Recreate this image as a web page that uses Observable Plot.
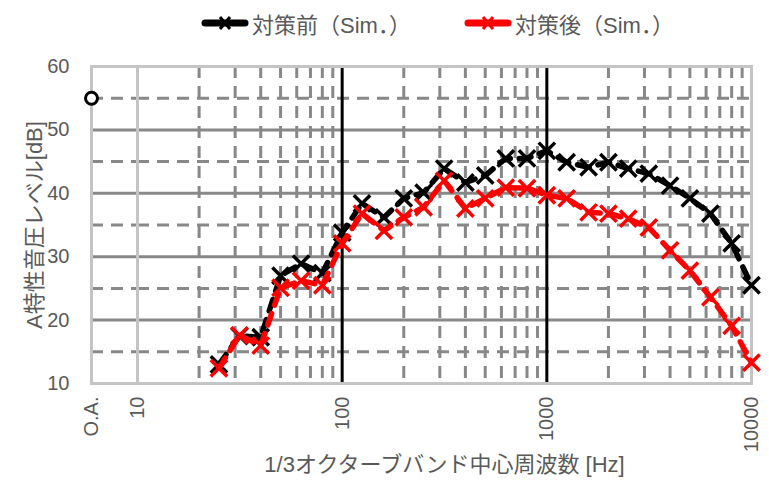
<!DOCTYPE html>
<html><head><meta charset="utf-8">
<script src="https://cdn.jsdelivr.net/npm/d3@7"></script>
<script src="https://cdn.jsdelivr.net/npm/@observablehq/plot@0.6"></script>
<style>
body{margin:0;background:#fff;}
#wrap{position:relative;width:769px;height:495px;font-family:'Liberation Sans','Noto Sans CJK JP',sans-serif;color:#595959;}
#legend{position:absolute;left:0;top:0;width:769px;height:42px;}
.item{position:absolute;top:7px;display:flex;align-items:center;font-size:22px;white-space:nowrap;}
.item svg{margin-right:3px;}
#plots{position:absolute;left:0;top:42px;width:769px;height:453px;}
#plots svg{position:absolute;left:0;top:0;}
</style></head><body>
<div id="wrap"><div id="legend"></div><div id="plots"></div></div>
<script>
// ---- data ----
const freqs = [25,31.5,40,50,63,80,100,125,160,200,250,315,400,500,630,800,1000,1250,1600,2000,2500,3150,4000,5000,6300,8000,10000];
const before = [13.0,17.5,17.3,27.0,28.9,27.4,33.8,38.4,36.2,39.2,40.1,43.9,41.7,42.8,45.5,45.5,46.7,44.9,44.1,44.9,43.9,43.1,41.2,39.2,36.8,32.1,25.5];
const after  = [12.4,17.6,16.0,25.1,26.2,25.5,32.1,36.8,34.1,36.2,37.8,42.0,37.6,39.2,40.9,40.8,39.7,39.2,37.0,36.8,36.0,34.6,31.0,27.8,23.6,19.1,13.3];
const oaLabels = ["O.A."];
const oaBefore = [55.0];
const seriesNames = ["対策前（Sim．）","対策後（Sim．）"];
const seriesColors = ["#000000","#ff0000"];
const xTicks = [10,100,1000,10000];
const yTicks = [10,20,30,40,50,60];
const minorFreqs = [20,30,40,50,60,70,80,90,200,300,400,500,600,700,800,900,2000,3000,4000,5000,6000,7000,8000,9000];
const decadeLines = [100,1000];
const majorGridDb = [20,30,40,50];
const minorGridDb = [15,25,35,45,55];
const xLabel = "1/3オクターブバンド中心周波数 [Hz]";
const yLabel = "A特性音圧レベル[dB]";

// ---- build ----
const font = "'Liberation Sans','Noto Sans CJK JP',sans-serif";
const H = 453, MT = 24, MB = 112;
const gridColor = "#888888";
const styleObj = {background:"none", overflow:"visible", fontFamily:font, color:"#595959"};
const rowsB = freqs.map((f,i)=>({f, v:before[i]}));
const rowsA = freqs.map((f,i)=>({f, v:after[i]}));
const oaRows = oaLabels.map((k,i)=>({k, v:oaBefore[i]}));

const main = Plot.plot({
  width:769, height:H, marginTop:MT, marginBottom:MB, marginLeft:137, marginRight:18,
  style: styleObj,
  x: {type:"log", domain:[10,10000]},
  y: {domain:[10,60], axis:null},
  marks: [
    Plot.ruleY(minorGridDb, {stroke:gridColor, strokeWidth:3, strokeDasharray:"12,8"}),
    Plot.ruleX(minorFreqs, {stroke:gridColor, strokeWidth:3, strokeDasharray:"12,8"}),
    Plot.ruleY(majorGridDb, {stroke:gridColor, strokeWidth:3}),
    Plot.ruleX(decadeLines, {stroke:"#000", strokeWidth:3}),
    Plot.frame({stroke:"#c4c4c4", strokeWidth:3}),
    Plot.ruleX([10], {stroke:"#a9a9a9", strokeWidth:3}),
    Plot.line(rowsB, {x:"f", y:"v", stroke:seriesColors[0], strokeWidth:5.5, strokeDasharray:"12,9", strokeLinecap:"round"}),
    Plot.dot(rowsB, {x:"f", y:"v", symbol:"times", r:7.5, stroke:seriesColors[0], strokeWidth:3.5}),
    Plot.line(rowsA, {x:"f", y:"v", stroke:seriesColors[1], strokeWidth:5.5, strokeDasharray:"12,9", strokeLinecap:"round"}),
    Plot.dot(rowsA, {x:"f", y:"v", symbol:"times", r:7.5, stroke:seriesColors[1], strokeWidth:3.5}),
    Plot.axisX({ticks:xTicks, tickFormat:d=>String(d), tickRotate:-90, tickSize:0, tickPadding:13, fontSize:20, label:null}),
    Plot.text([xLabel], {text:d=>d, frameAnchor:"bottom", dy:88, fontSize:22, fill:"#595959"})
  ]
});

const oa = Plot.plot({
  width:769, height:H, marginTop:MT, marginBottom:MB, marginLeft:91, marginRight:769-137,
  style: styleObj,
  x: {type:"point", domain:oaLabels, align:0, padding:0},
  y: {domain:[10,60]},
  marks: [
    Plot.ruleY(minorGridDb, {stroke:gridColor, strokeWidth:3, strokeDasharray:"12,8"}),
    Plot.ruleY(majorGridDb, {stroke:gridColor, strokeWidth:3}),
    Plot.frame({stroke:"#c4c4c4", strokeWidth:3}),
    Plot.axisX({tickRotate:-90, tickSize:0, tickPadding:13, fontSize:20, label:null}),
    Plot.axisY({ticks:yTicks, tickSize:0, tickPadding:22, fontSize:20, label:null}),
    Plot.text([yLabel], {text:d=>d, frameAnchor:"left", textAnchor:"middle", rotate:-90, dx:-57, fontSize:22, fill:"#595959"}),
    Plot.dot(oaRows, {x:"k", y:"v", r:6, stroke:"#000", strokeWidth:3, fill:"#fff"})
  ]
});

document.getElementById("plots").append(main, oa);

// legend
const legend = document.getElementById("legend");
const lx = [201, 464];
seriesNames.forEach((name,i)=>{
  const div = document.createElement("div");
  div.className = "item";
  div.style.left = lx[i] + "px";
  const c = seriesColors[i];
  div.innerHTML = `<svg width="48" height="26"><line x1="4" y1="13" x2="44" y2="13" stroke="${c}" stroke-width="7" stroke-linecap="round"/><path d="M19,7L29,19M29,7L19,19" stroke="${c}" stroke-width="3"/></svg><span>${name}</span>`;
  legend.append(div);
});
</script>
</body></html>
